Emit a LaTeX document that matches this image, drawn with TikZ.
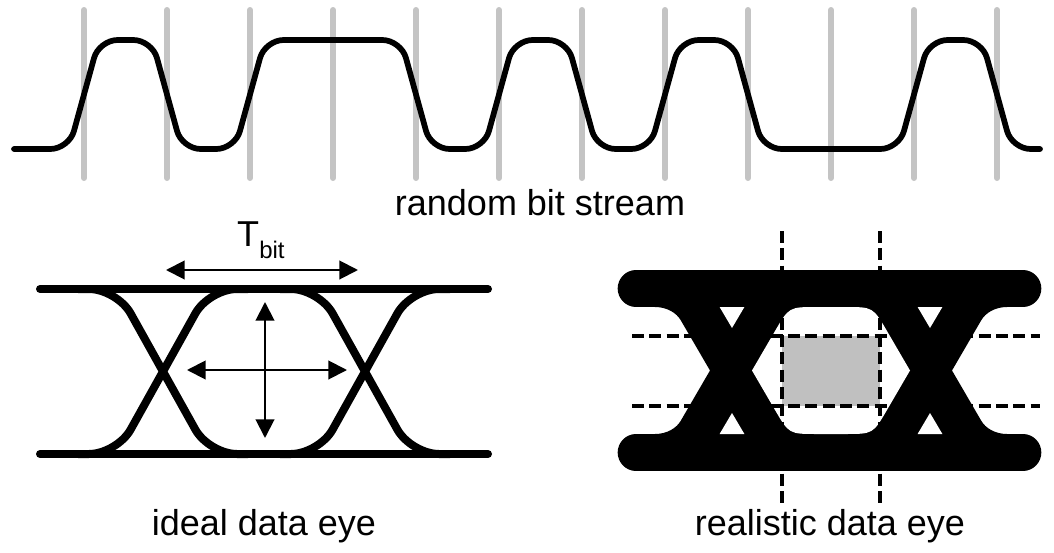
\documentclass[tikz,border=0pt]{standalone}
\usepackage{fontspec}
\setmainfont{Liberation Sans}
\usetikzlibrary{arrows.meta}
\definecolor{gridgray}{HTML}{C4C4C4}
\definecolor{boxgray}{HTML}{C0C0C0}
\tikzset{
  gridline/.style={draw=gridgray, line width=4.5pt, line cap=round},
  wave/.style={draw=black, line width=4.3pt, line cap=round, line join=round, rounded corners=14pt},
  thinrail/.style={draw=black, line width=6pt, line cap=round},
  thintrace/.style={draw=black, line width=6pt, rounded corners=21pt},
  fatrail/.style={draw=black, line width=27.5pt, line cap=round},
  hole/.style={fill=white},
  dim/.style={draw=black, line width=1.5pt, {Triangle[length=14pt,width=14pt]}-{Triangle[length=14pt,width=14pt]}},
  dashline/.style={draw=black, line width=2.6pt, dash pattern=on 9pt off 4pt},
  label/.style={font=\fontsize{27}{32}\selectfont, inner sep=0pt, anchor=base},
}
\begin{document}
\begin{tikzpicture}[x=0.75pt, y=-0.75pt]
\useasboundingbox (0,0) rectangle (1054,553);
% ---------- random bit stream ----------
\foreach \gx in {84,167,250,333,416,499,582,665,748,831,914,997}
  \draw[gridline] (\gx,10) -- (\gx,178);
\draw[wave] (14,149) -- (69,149) -- (99,40) -- (152,40) -- (182,149) -- (235,149)
  -- (265,40) -- (401,40) -- (431,149) -- (484,149) -- (514,40) -- (567,40)
  -- (597,149) -- (650,149) -- (680,40) -- (733,40) -- (763,149) -- (899,149)
  -- (929,40) -- (982,40) -- (1012,149) -- (1040,149);
\node[label] (stream) at (540,215) {random bit stream};
% ---------- ideal data eye ----------
\draw[thinrail] (40,289) -- (488,289);
\draw[thinrail] (40,454) -- (488,454);
\foreach \c in {163,365} {
  \draw[thintrace] (\c-85,289) -- (\c-46,289) -- (\c+46,454) -- (\c+85,454);
  \draw[thintrace] (\c-85,454) -- (\c-46,454) -- (\c+46,289) -- (\c+85,289);
}
\coordinate (tl) at (166,270);
\coordinate (tr) at (358,270);
\coordinate (vt) at (265,302);
\coordinate (vb) at (265,438);
\coordinate (hl) at (187,370);
\coordinate (hr) at (347,370);
\draw[dim] (tl) -- (tr);
\draw[dim] (vt) -- (vb);
\draw[dim] (hl) -- (hr);
\node[label] (T) at (248,246) {T};
\node[font=\fontsize{18}{22}\selectfont, inner sep=0pt, anchor=base west] (bit) at (259,258) {bit};
\node[label] (ideal) at (264,535) {ideal data eye};
% ---------- realistic data eye ----------
\draw[fatrail] (636,288.5) -- (1023,288.5);
\draw[fatrail] (636,452.5) -- (1023,452.5);
% black body between the rails
\fill[black] (640,300) -- (655,307) .. controls (667,307) and (676.5,313) .. (680.6,320)
  -- (710,370.5) -- (680.6,421) .. controls (676.5,428) and (667,434) .. (655,434)
  -- (640,441) -- (1022,441) -- (1007,434) .. controls (995,434) and (985.5,428) .. (981.4,421)
  -- (952,370.5) -- (981.4,320) .. controls (985.5,313) and (995,307) .. (1007,307)
  -- (1022,300) -- cycle;
% white openings
\foreach \c in {732,930} {
  \fill[hole] (\c,328) -- (\c-12.4,307) -- (\c+12.4,307) -- cycle;
  \fill[hole] (\c,413) -- (\c-12.4,434) -- (\c+12.4,434) -- cycle;
}
\fill[hole] (752,370.5) -- (774.9,331.2) .. controls (789,307) .. (817,307)
  -- (845,307) .. controls (873,307) .. (887.1,331.2) -- (910,370.5)
  -- (887.1,409.8) .. controls (873,434) .. (845,434) -- (817,434)
  .. controls (789,434) .. (774.9,409.8) -- cycle;
\fill[boxgray] (782,336) rectangle (880,406);
\draw[dashline] (782,231) -- (782,507);
\draw[dashline] (880,231) -- (880,507);
\draw[dashline] (632,336) -- (1040,336);
\draw[dashline] (632,406) -- (1040,406);
\node[label] (real) at (830,535) {realistic data eye};
\end{tikzpicture}
\end{document}
